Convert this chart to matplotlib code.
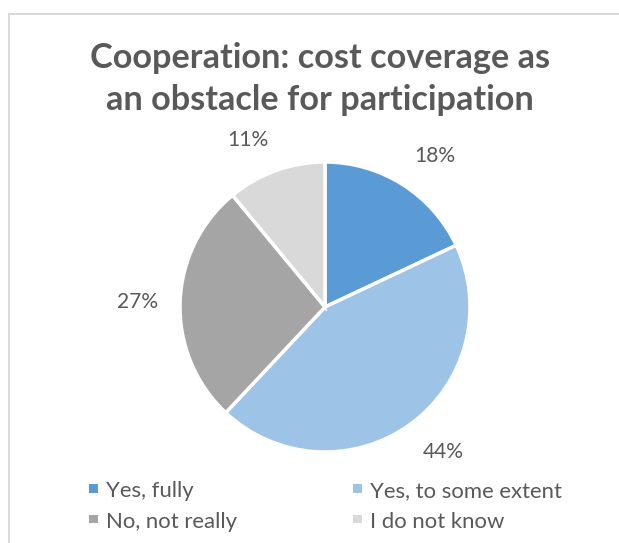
import numpy as np
import matplotlib
matplotlib.use("Agg")
import matplotlib.pyplot as plt
from matplotlib.lines import Line2D
from matplotlib.patches import Rectangle

plt.rcParams['font.family'] = ['Lato', 'DejaVu Sans']

categories = ["Yes, fully", "Yes, to some extent", "No, not really", "I do not know"]
shares = [18, 44, 27, 11]
colors = ["#5B9BD5", "#9DC3E6", "#A5A5A5", "#D9D9D9"]
title_lines = ["Cooperation: cost coverage as", "an obstacle for participation"]
text_color = "#595959"

W, H = 619, 543
fig = plt.figure(figsize=(W / 100, H / 100), dpi=100)
fig.patch.set_facecolor("white")
renderer = fig.canvas.get_renderer()


def px(x, y):
    # pixel position from the top-left corner -> figure fraction
    return x / W, 1 - y / H


def fit_width(texts, width_px):
    # scale font size so the first text spans width_px
    w = texts[0].get_window_extent(renderer).width
    size = texts[0].get_fontsize() * width_px / w
    for t in texts:
        t.set_fontsize(size)


# chart area frame (top and left edges)
fig.add_artist(Line2D([8.5 / W, 1], [1 - 13.5 / H] * 2, color="#D9D9D9", lw=1.4))
fig.add_artist(Line2D([8.5 / W] * 2, [0, 1 - 13.5 / H], color="#D9D9D9", lw=1.4))

title_texts = [fig.text(*px(320, yb), line, ha="center", va="baseline", fontsize=20,
                        fontweight="bold", color=text_color)
               for line, yb in zip(title_lines, [68, 110])]
fit_width(title_texts, 459)

# pie axes: centre (325, 307) px, radius 145 px
r_px = 145
cx, cy = 325, 307
ax = fig.add_axes([(cx - r_px) / W, (H - cy - r_px) / H, 2 * r_px / W, 2 * r_px / H])
wedges, _ = ax.pie(shares, colors=colors, startangle=90, counterclock=False,
                   radius=1, wedgeprops=dict(edgecolor="white", linewidth=2.5))
ax.set_xlim(-1, 1)
ax.set_ylim(-1, 1)
ax.axis("off")

# outside-end labels
label_texts = []
for w, v in zip(wedges, shares):
    ang = np.deg2rad((w.theta1 + w.theta2) / 2)
    x, y = 1.15 * np.cos(ang), 1.15 * np.sin(ang)
    ha = "left" if x > 0 else "right"
    if abs(np.sin(ang)) < 0.3:
        va = "center"
    else:
        va = "bottom" if y > 0 else "top"
    label_texts.append(ax.text(x, y, f"{v}%", ha=ha, va=va, fontsize=12,
                               color=text_color, clip_on=False))
fit_width([label_texts[1]] + label_texts, 41)

# legend in two columns
legend_x = [89, 353]
legend_y = [497, 527.5]
legend_texts = []
for i, (lab, c) in enumerate(zip(categories, colors)):
    lx = legend_x[i % 2]
    ly = legend_y[i // 2]
    fig.add_artist(Rectangle(px(lx, ly - 4.5), 8.5 / W, 8.5 / H,
                             transform=fig.transFigure, facecolor=c, edgecolor="none"))
    legend_texts.append(fig.text(*px(lx + 17, ly), lab, ha="left", va="baseline",
                                 fontsize=13, color=text_color))
fit_width([legend_texts[1]] + legend_texts, 192)

fig.savefig("out.png", dpi=100)
